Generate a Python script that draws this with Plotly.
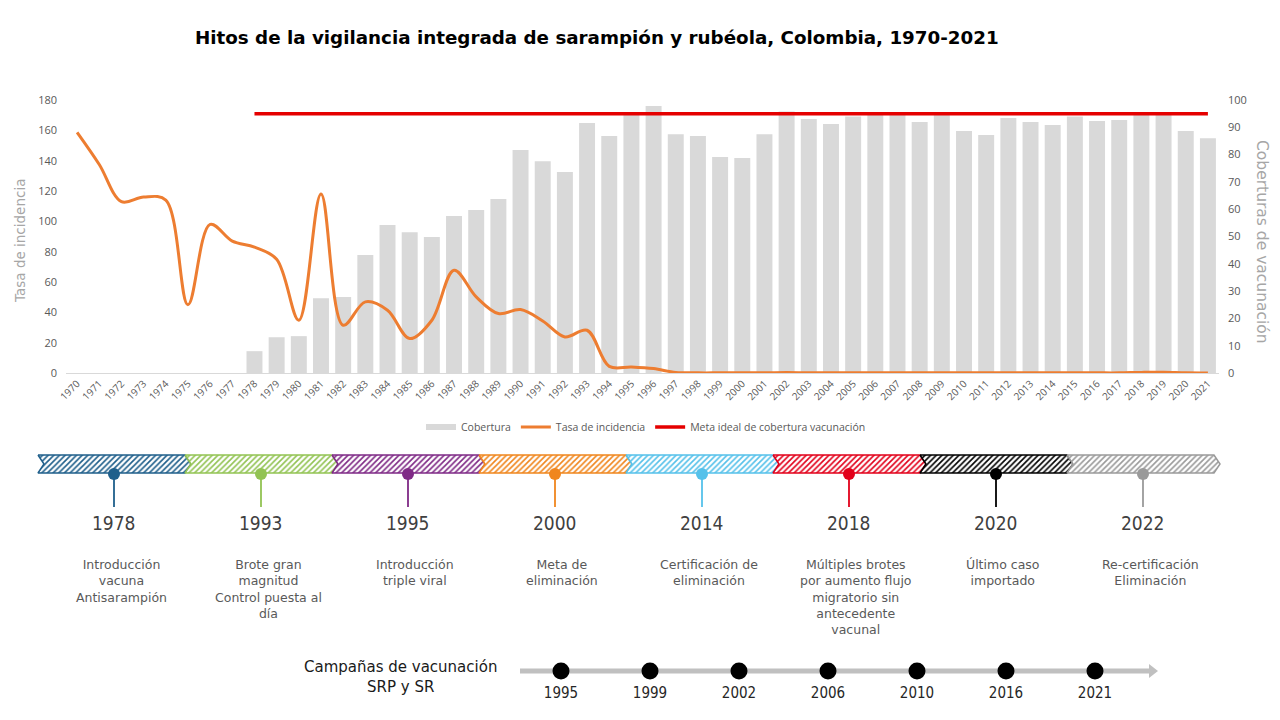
import plotly.graph_objects as go

# ---------------- data ----------------
years = list(range(1970, 2022))
coverage_years = list(range(1978, 2022))
coverage = [8.0, 13.1, 13.5, 27.4, 27.8, 43.2, 54.2, 51.6, 49.8, 57.5, 59.7, 63.7,
            81.7, 77.6, 73.6, 91.6, 86.8, 95.0, 97.8, 87.5, 86.8, 79.1, 78.8, 87.5,
            95.8, 93.0, 91.2, 94.0, 95.3, 95.6, 91.9, 95.5, 88.6, 87.2, 93.4, 91.9,
            90.8, 94.0, 92.3, 92.7, 95.2, 95.4, 88.6, 86.0]
incidence = [158.7, 137.5, 113.0, 116.0, 114.0, 45.0, 98.0, 87.0, 83.0, 75.0,
             34.8, 118.0, 31.5, 46.9, 41.4, 22.7, 34.8, 67.8, 50.2, 39.2,
             41.8, 34.3, 23.8, 28.2, 4.4, 4.0, 2.9, 0.4, 0.1, 0.1,
             0.1, 0.1, 0.3, 0.1, 0.1, 0.1, 0.1, 0.1, 0.1, 0.1,
             0.1, 0.1, 0.1, 0.1, 0.1, 0.1, 0.1, 0.1, 0.4, 0.5,
             0.1, 0.0]
meta_years = [1978, 2021]
meta_values = [95, 95]

milestone_years = ["1978", "1993", "1995", "2000", "2014", "2018", "2020", "2022"]
milestone_texts = [
    "Introducción<br>vacuna<br>Antisarampión",
    "Brote gran<br>magnitud<br>Control puesta al<br>día",
    "Introducción<br>triple viral",
    "Meta de<br>eliminación",
    "Certificación de<br>eliminación",
    "Múltiples brotes<br>por aumento flujo<br>migratorio sin<br>antecedente<br>vacunal",
    "Último caso<br>importado",
    "Re-certificación<br>Eliminación",
]
milestone_colors = ["#1f5f8b", "#92c353", "#7f2a86", "#f0861e",
                    "#55c1ea", "#e2001a", "#000000", "#9a9a9a"]

campaign_years = ["1995", "1999", "2002", "2006", "2010", "2016", "2021"]

# ---------------- layout constants (pixels) ----------------
W, H = 1280, 720
PX0, PX1 = 66, 1219        # main plot horizontal extent
PY0, PY1 = 100, 373        # main plot vertical extent (top, bottom)
TL_X0, SEG_W, NOTCH = 38, 147, 6
TL_TOP, TL_BOT = 455, 473
DOT_Y, STEM_Y = 474, 507
CAMP_X0, CAMP_STEP, CAMP_Y = 561, 89, 671

GREY_TXT = "#595959"
NARROW = "Liberation Sans Narrow, DejaVu Sans Condensed, DejaVu Sans"

fig = go.Figure()

# bars (coverage) on main y axis (right side)
fig.add_trace(go.Bar(x=coverage_years, y=coverage, name="Cobertura",
                     marker=dict(color="#d9d9d9", line=dict(width=0)),
                     xaxis="x", yaxis="y", showlegend=False))
# legend stand-in for the bars (wide flat swatch like the reference)
fig.add_trace(go.Scatter(x=[None], y=[None], mode="lines", name="Cobertura",
                         line=dict(color="#d9d9d9", width=6),
                         xaxis="x", yaxis="y", legendrank=1))
# target line
fig.add_trace(go.Scatter(x=meta_years, y=meta_values, mode="lines",
                         name="Meta ideal de cobertura vacunación",
                         line=dict(color="#e50000", width=3.5),
                         xaxis="x", yaxis="y", legendrank=3))
# incidence line on overlay axis (left side)
fig.add_trace(go.Scatter(x=years, y=incidence, mode="lines",
                         name="Tasa de incidencia",
                         line=dict(color="#ed7d31", width=3, shape="spline", smoothing=1.0),
                         xaxis="x", yaxis="y2", legendrank=2))

# ---------------- timeline ----------------
annotations = []
for i, (yr, txt, col) in enumerate(zip(milestone_years, milestone_texts, milestone_colors)):
    L = TL_X0 + i * SEG_W
    R = L + SEG_W
    mid = (TL_TOP + TL_BOT) / 2
    xs = [L, R, R + NOTCH, R, L, L + NOTCH, L]
    ys = [TL_TOP, TL_TOP, mid, TL_BOT, TL_BOT, mid, TL_TOP]
    fig.add_trace(go.Scatter(x=xs, y=ys, mode="lines", fill="toself",
                             line=dict(color=col, width=1.5),
                             fillcolor="white",
                             fillpattern=dict(shape="/", fgcolor=col, bgcolor="white",
                                              size=4, solidity=0.4),
                             xaxis="x3", yaxis="y3", showlegend=False, hoverinfo="skip"))
    cx = L + 76
    fig.add_trace(go.Scatter(x=[cx, cx], y=[DOT_Y, STEM_Y], mode="lines",
                             line=dict(color=col, width=1.8),
                             xaxis="x3", yaxis="y3", showlegend=False, hoverinfo="skip"))
    fig.add_trace(go.Scatter(x=[cx], y=[DOT_Y], mode="markers",
                             marker=dict(color=col, size=12, line=dict(width=0)),
                             xaxis="x3", yaxis="y3", showlegend=False, hoverinfo="skip"))
    annotations.append(dict(x=cx, y=523, xref="x3", yref="y3", text=yr, showarrow=False,
                            font=dict(family=NARROW, size=19, color="#404040"),
                            xanchor="center", yanchor="middle"))
    annotations.append(dict(x=cx + 7, y=555, xref="x3", yref="y3", text=txt, showarrow=False,
                            font=dict(family="DejaVu Sans", size=12.5, color=GREY_TXT),
                            xanchor="center", yanchor="top", align="center"))

# campaigns
camp_x = [CAMP_X0 + i * CAMP_STEP for i in range(len(campaign_years))]
fig.add_trace(go.Scatter(x=[520, 1150], y=[CAMP_Y, CAMP_Y], mode="lines",
                         line=dict(color="#c0c0c0", width=5),
                         xaxis="x3", yaxis="y3", showlegend=False, hoverinfo="skip"))
fig.add_trace(go.Scatter(x=[1152], y=[CAMP_Y], mode="markers",
                         marker=dict(symbol="triangle-right", color="#c0c0c0", size=12),
                         xaxis="x3", yaxis="y3", showlegend=False, hoverinfo="skip"))
fig.add_trace(go.Scatter(x=camp_x, y=[CAMP_Y] * len(camp_x), mode="markers",
                         marker=dict(color="black", size=17),
                         xaxis="x3", yaxis="y3", showlegend=False, hoverinfo="skip"))
fig.add_trace(go.Scatter(x=camp_x, y=[CAMP_Y + 23] * len(camp_x), mode="text",
                         text=campaign_years, textposition="middle center",
                         textfont=dict(family=NARROW, size=15, color="#262626"),
                         xaxis="x3", yaxis="y3", showlegend=False, hoverinfo="skip"))
annotations.append(dict(x=400, y=677, xref="x3", yref="y3",
                        text="Campañas de vacunación<br>SRP y SR", showarrow=False,
                        font=dict(family="DejaVu Sans", size=15, color="#1a1a1a"),
                        xanchor="center", yanchor="middle", align="center"))

# title and axis titles
annotations.append(dict(x=597 / W, y=1 - 37 / H, xref="paper", yref="paper",
                        text="<b>Hitos de la vigilancia integrada de sarampión y rubéola, Colombia, 1970-2021</b>",
                        showarrow=False, font=dict(family="DejaVu Sans", size=18.3, color="black"),
                        xanchor="center", yanchor="middle"))
annotations.append(dict(x=20 / W, y=1 - 241 / H, xref="paper", yref="paper",
                        text="Tasa de incidencia", textangle=-90, showarrow=False,
                        font=dict(family="DejaVu Sans", size=13.5, color="#a6a6a6"),
                        xanchor="center", yanchor="middle"))
annotations.append(dict(x=1262 / W, y=1 - 242 / H, xref="paper", yref="paper",
                        text="Coberturas de vacunación", textangle=90, showarrow=False,
                        font=dict(family="DejaVu Sans", size=15.5, color="#a6a6a6"),
                        xanchor="center", yanchor="middle"))

tickfont = dict(family="Open Sans", size=11, color=GREY_TXT)
fig.update_layout(
    width=W, height=H, autosize=False,
    margin=dict(l=0, r=0, t=0, b=0),
    paper_bgcolor="white", plot_bgcolor="rgba(0,0,0,0)",
    template="none",
    bargap=0.28,
    showlegend=True,
    legend=dict(orientation="h", x=646 / W, xanchor="center", y=1 - 427 / H, yanchor="middle",
                font=dict(family="Open Sans", size=10.5, color=GREY_TXT),
                bgcolor="rgba(0,0,0,0)", traceorder="normal", itemwidth=30),
    xaxis=dict(domain=[PX0 / W, PX1 / W], range=[1969.5, 2021.5], tickmode="array",
               tickvals=years, ticktext=[str(y) for y in years], tickangle=-45,
               tickfont=dict(family="Open Sans", size=10, color=GREY_TXT),
               showgrid=False, zeroline=False, showline=True, linecolor="#d9d9d9", linewidth=1,
               ticks="", anchor="y", fixedrange=True, automargin=False),
    yaxis=dict(domain=[1 - PY1 / H, 1 - PY0 / H], range=[0, 100], dtick=10, side="right",
               tickfont=tickfont, showgrid=False, zeroline=False, showline=False, ticks="",
               ticklabelstandoff=8,
               anchor="x", fixedrange=True, automargin=False),
    yaxis2=dict(range=[0, 180], dtick=20, side="left", overlaying="y", anchor="x",
                tickfont=tickfont, showgrid=False, zeroline=False, showline=False, ticks="",
                ticklabelstandoff=8,
                fixedrange=True, automargin=False),
    xaxis3=dict(domain=[0, 1], range=[0, W], visible=False, anchor="y3", fixedrange=True),
    yaxis3=dict(domain=[0, 1], range=[H, 0], visible=False, anchor="x3", fixedrange=True),
    annotations=annotations,
)

fig.write_html("out.html")
